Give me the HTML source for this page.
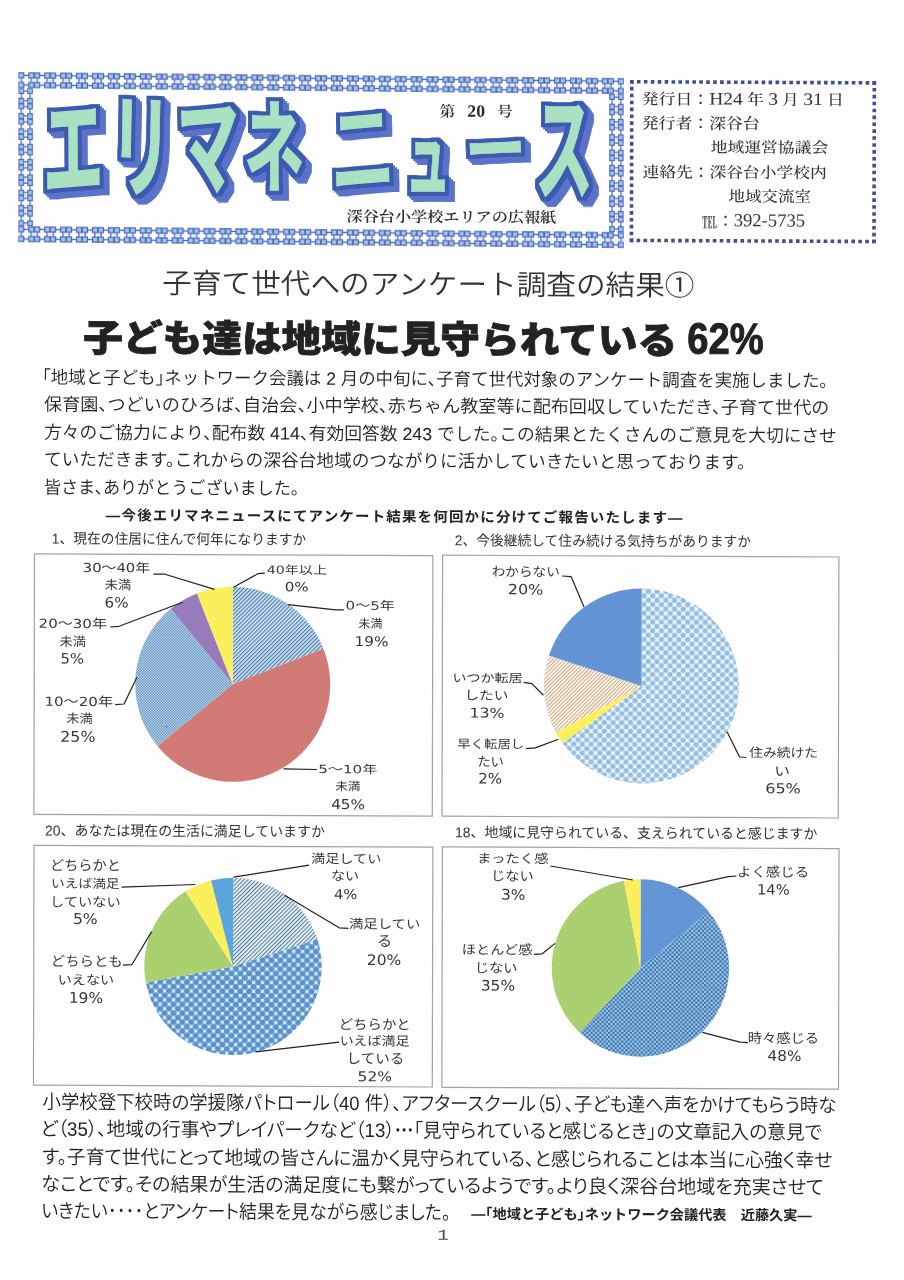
<!DOCTYPE html>
<html lang="ja">
<head>
<meta charset="utf-8">
<title>エリマネ ニュース 第20号</title>
<style>
html,body{margin:0;padding:0;}
body{width:904px;height:1280px;position:relative;overflow:hidden;background:#fefefe;}
#pgw{position:absolute;left:0;top:0;width:904px;height:1280px;transform-origin:0 0;transform:matrix(1,0.00454,-0.00227,1,0,0);}
svg.gfx{position:absolute;left:0;top:0;width:904px;height:1280px;overflow:visible;}
.t{position:absolute;white-space:nowrap;line-height:1;transform-origin:0 0;margin:0;padding:0;}
#logo{position:absolute;left:0;top:0;width:640px;height:260px;filter:url(#lgf);}
.lg{font-family:'Liberation Sans','Noto Sans CJK JP',sans-serif;font-weight:900;font-size:90px;color:#aae1c3;-webkit-text-stroke:1px #aae1c3;}
.t .L{line-height:0;font-size:1.16em}.t .tel{display:inline-block;line-height:0;position:relative;top:.13em;transform:scale(.92,1.03)}.t .j{line-height:0;font-family:'Noto Sans CJK JP',sans-serif;font-weight:700}.lg span{display:inline-block}
.go{font-family:'Liberation Serif','Noto Serif CJK JP','Noto Serif CJK SC',serif;font-weight:600;font-size:15.5px;color:#2a2a2a;word-spacing:.55em;}
.sub{font-family:'Liberation Serif','Noto Serif CJK JP','Noto Serif CJK SC',serif;font-weight:600;font-size:16px;color:#2a2a2a;}
.inf{font-family:'Liberation Serif','Noto Serif CJK JP','Noto Serif CJK SC',serif;font-weight:500;font-size:16px;color:#333;}
.t1{font-family:'Liberation Sans','Noto Sans CJK JP',sans-serif;font-weight:350;font-size:29px;color:#333;font-feature-settings:'halt';}
.t2{font-family:'Liberation Sans','Noto Sans CJK JP',sans-serif;font-weight:900;font-size:40px;color:#222;-webkit-text-stroke:0.8px #222;}
.t2n{font-family:'Liberation Sans','Noto Sans CJK JP',sans-serif;font-weight:700;font-size:42px;color:#222;-webkit-text-stroke:0.9px #222;}
.p{font-family:'Liberation Sans','Noto Sans CJK JP',sans-serif;font-weight:350;font-size:17.5px;color:#222;font-feature-settings:'halt';}
.pb{font-family:'Liberation Sans','Noto Sans CJK JP',sans-serif;font-weight:350;font-size:19px;color:#222;font-feature-settings:'palt';}
.sg{font-family:'Liberation Sans','Noto Sans CJK JP',sans-serif;font-weight:700;font-size:14.5px;color:#222;font-feature-settings:'halt';}
.sh{font-family:'Liberation Sans','Noto Sans CJK JP',sans-serif;font-weight:700;font-size:14.5px;color:#222;font-feature-settings:'halt';letter-spacing:1.2px;}
.ct{font-family:'Liberation Sans','Noto Sans CJK JP',sans-serif;font-weight:400;font-size:14px;color:#333;}
.lb{font-family:'DejaVu Sans','Noto Sans CJK JP',sans-serif;font-weight:400;font-size:13px;color:#383838;}
.pg{font-family:'Liberation Mono',monospace;font-weight:400;font-size:17px;color:#444;}
</style>
</head>
<body>
<svg class="gfx" width="904" height="1280" viewBox="0 0 904 1280">
<defs>
 <filter id="lgf" x="0" y="0" width="640" height="260" filterUnits="userSpaceOnUse" color-interpolation-filters="sRGB">
  <feMorphology in="SourceAlpha" operator="dilate" radius="4" result="o"/>
  <feOffset in="o" dx="2" dy="2" result="s1"/><feOffset in="o" dx="4" dy="4" result="s2"/><feOffset in="o" dx="6" dy="6" result="s3"/>
  <feMerge result="sa"><feMergeNode in="s1"/><feMergeNode in="s2"/><feMergeNode in="s3"/></feMerge>
  <feFlood flood-color="#5a72ca"/><feComposite in2="sa" operator="in" result="sc"/>
  <feFlood flood-color="#3c5aaf"/><feComposite in2="o" operator="in" result="oc"/>
  <feMerge><feMergeNode in="sc"/><feMergeNode in="oc"/><feMergeNode in="SourceGraphic"/></feMerge>
 </filter>
 <g id="tile">
  <rect x="-1" y="-1" width="18" height="18" fill="#fefefe"/>
  <g fill="#4868b8">
   <rect x="-6.1" y="0.2" width="12.2" height="6.1"/><rect x="9.9" y="0.2" width="12.2" height="6.1"/>
   <rect x="-6.1" y="9.7" width="12.2" height="6.1"/><rect x="9.9" y="9.7" width="12.2" height="6.1"/>
   <rect x="-3.8" y="6" width="1.3" height="4"/><rect x="2.5" y="6" width="1.3" height="4"/>
   <rect x="12.2" y="6" width="1.3" height="4"/><rect x="18.5" y="6" width="1.3" height="4"/>
   <rect x="5" y="2.6" width="6" height="1.3"/><rect x="5" y="12.1" width="6" height="1.3"/>
  </g>
  <g fill="#aac4f1">
   <rect x="0.9" y="1.4" width="3.9" height="3.7"/><rect x="11.2" y="1.4" width="3.9" height="3.7"/>
   <rect x="0.9" y="10.9" width="3.9" height="3.7"/><rect x="11.2" y="10.9" width="3.9" height="3.7"/>
  </g>
  <rect x="-1.6" y="7.3" width="3.2" height="1.4" fill="#c9dbf7"/><rect x="14.4" y="7.3" width="3.2" height="1.4" fill="#c9dbf7"/>
 </g>
 <pattern id="bh" x="18.3" y="72" width="15.934" height="16.2" patternUnits="userSpaceOnUse" viewBox="0 0 16 16" preserveAspectRatio="none"><use href="#tile"/></pattern>
 <pattern id="bh2" x="18.3" y="226" width="15.934" height="16.2" patternUnits="userSpaceOnUse" viewBox="0 0 16 16" preserveAspectRatio="none"><use href="#tile"/></pattern>
 <pattern id="bv" width="15.311" height="14.8" patternUnits="userSpaceOnUse" viewBox="0 0 16 16" preserveAspectRatio="none" patternTransform="translate(33.1,88.2) rotate(90)"><use href="#tile"/></pattern>
 <pattern id="bv2" width="15.311" height="14.8" patternUnits="userSpaceOnUse" viewBox="0 0 16 16" preserveAspectRatio="none" patternTransform="translate(623.8,88.2) rotate(90)"><use href="#tile"/></pattern>

 <pattern id="pa" width="2.8" height="2.8" patternUnits="userSpaceOnUse" patternTransform="rotate(45)"><rect width="2.8" height="2.8" fill="#d2e9fa"/><rect width="1.18" height="2.8" fill="#4f7ba8"/></pattern>
 <pattern id="pb" width="2.66" height="2.66" patternUnits="userSpaceOnUse"><rect width="2.66" height="2.66" fill="#d5ecfb"/><rect width="1.33" height="1.33" fill="#4a7cae"/><rect x="1.33" y="1.33" width="1.33" height="1.33" fill="#4a7cae"/></pattern>
 <pattern id="pc" width="8.75" height="8.75" patternUnits="userSpaceOnUse"><rect width="8.75" height="8.75" fill="#ecf5fc"/><g fill="#96bee1"><circle cx="2.19" cy="2.19" r="2.6"/><circle cx="6.56" cy="6.56" r="2.6"/><circle cx="10.94" cy="2.19" r="2.6"/><circle cx="2.19" cy="10.94" r="2.6"/><circle cx="-2.19" cy="6.56" r="2.6"/><circle cx="6.56" cy="-2.19" r="2.6"/></g></pattern>
 <pattern id="pd" width="2.7" height="2.7" patternUnits="userSpaceOnUse" patternTransform="rotate(45)"><rect width="2.7" height="2.7" fill="#fdf2e4"/><rect width="0.78" height="2.7" fill="#bc9d7b"/></pattern>
 <pattern id="pe" width="2.9" height="2.9" patternUnits="userSpaceOnUse" patternTransform="rotate(45)"><rect width="2.9" height="2.9" fill="#e8f5fc"/><rect width="1.1" height="2.9" fill="#587a96"/></pattern>
 <pattern id="pf" width="8.9" height="8.9" patternUnits="userSpaceOnUse"><rect width="8.9" height="8.9" fill="#dcf3fb"/><g fill="#5a91ca"><circle cx="2.225" cy="2.225" r="3"/><circle cx="6.675" cy="6.675" r="3"/><circle cx="11.125" cy="2.225" r="3"/><circle cx="2.225" cy="11.125" r="3"/><circle cx="-2.225" cy="6.675" r="3"/><circle cx="6.675" cy="-2.225" r="3"/></g></pattern>
 <pattern id="pg" width="4.36" height="4.36" patternUnits="userSpaceOnUse"><rect width="4.36" height="4.36" fill="#9ccbf0"/><rect width="2.18" height="2.18" fill="#3f70a6"/><rect x="2.18" y="2.18" width="2.18" height="2.18" fill="#3f70a6"/></pattern>
</defs>
<!-- logo frame -->
<g transform="translate(18.3,72) skewY(0.57) translate(-18.3,-72)">
<rect x="18.3" y="72" width="605.5" height="16.2" fill="url(#bh)"/>
<rect x="18.3" y="226" width="605.5" height="16.2" fill="url(#bh2)"/>
<rect x="18.3" y="88.2" width="14.8" height="137.8" fill="url(#bv)"/>
<rect x="609" y="88.2" width="14.8" height="137.8" fill="url(#bv2)"/>
</g>
</svg>
<div id="logo">
<div class="t lg" style="left:43.4px;top:93.58px;font-weight:700;transform:scale(0.6714,1.2506)"><span style="transform:rotate(-2.5deg) skewX(-2deg)">エ</span></div>
<div class="t lg" style="left:109.65px;top:92.41px;font-weight:700;transform:scale(0.6835,1.2634)"><span style="transform:rotate(2deg) skewX(0deg)">リ</span></div>
<div class="t lg" style="left:176.6px;top:94.18px;font-weight:700;transform:scale(0.6953,1.2139)"><span style="transform:rotate(-3deg) skewX(0deg)">マ</span></div>
<div class="t lg" style="left:244.16px;top:98.68px;font-weight:700;transform:scale(0.6687,1.1160)"><span style="transform:rotate(0deg) skewX(0deg)">ネ</span></div>
<div class="t lg" style="left:329.63px;top:94.97px;font-weight:500;transform:scale(0.7241,1.2402)"><span style="transform:rotate(-3deg) skewX(0deg)">ニ</span></div>
<div class="t lg" style="left:404.86px;top:111.72px;font-weight:700;transform:scale(0.5095,1.0231)"><span style="transform:rotate(0deg) skewX(0deg)">ュ</span></div>
<div class="t lg" style="left:465.41px;top:121.47px;font-weight:900;transform:scale(0.6758,0.6472)"><span style="transform:rotate(-3deg) skewX(0deg)">ー</span></div>
<div class="t lg" style="left:534.83px;top:92.8px;font-weight:700;transform:scale(0.6452,1.2878)"><span style="transform:rotate(0deg) skewX(0deg)">ス</span></div>
</div>
<div id="pgw">
<svg class="gfx" width="904" height="1280" viewBox="0 0 904 1280">
<g stroke="#414d8c" stroke-width="3.6" stroke-linecap="butt" fill="none"><line x1="631.98" y1="78.88" x2="874.54" y2="78.88" stroke-dasharray="3.6 3.33" stroke-dashoffset="1.8"/><line x1="631.98" y1="237.53" x2="874.54" y2="237.53" stroke-dasharray="3.6 3.33" stroke-dashoffset="1.8"/><line x1="631.98" y1="78.88" x2="631.98" y2="237.53" stroke-dasharray="3.6 3.3" stroke-dashoffset="1.8"/><line x1="874.54" y1="78.88" x2="874.54" y2="237.53" stroke-dasharray="3.6 3.3" stroke-dashoffset="1.8"/><g fill="#414d8c" stroke="none"><rect x="630.18" y="77.08" width="3.6" height="3.6"/><rect x="872.74" y="77.08" width="3.6" height="3.6"/><rect x="630.18" y="235.73" width="3.6" height="3.6"/><rect x="872.74" y="235.73" width="3.6" height="3.6"/></g></g>
<g fill="none" stroke="#a2a2a2" stroke-width="1.2"><rect x="35.76" y="553.64" width="398.39" height="260.49"/><rect x="443.86" y="553.19" width="396.29" height="261"/><rect x="35.92" y="845.14" width="398.84" height="239.89"/><rect x="444.32" y="844.78" width="396.65" height="240.6"/></g>
<path d="M234.25 683.14L234.25 585.64A97.5 97.5 0 0 1 324.9 647.24Z" fill="url(#pa)"/><path d="M234.25 683.14L324.9 647.24A97.5 97.5 0 0 1 159.12 745.29Z" fill="#d27a76"/><path d="M234.25 683.14L159.12 745.29A97.5 97.5 0 0 1 172.1 608.01Z" fill="url(#pb)"/><path d="M234.25 683.14L172.1 608.01A97.5 97.5 0 0 1 198.36 592.48Z" fill="#987bbb"/><path d="M234.25 683.14L198.36 592.48A97.5 97.5 0 0 1 234.25 585.64Z" fill="#fbef5b"/>
<path d="M643.05 683.08L643.05 585.68A97.4 97.4 0 1 1 564.25 740.33Z" fill="url(#pc)"/><path d="M643.05 683.08L564.25 740.33A97.4 97.4 0 0 1 557.7 730Z" fill="#fbef5b"/><path d="M643.05 683.08L557.7 730A97.4 97.4 0 0 1 550.42 652.98Z" fill="url(#pd)"/><path d="M643.05 683.08L550.42 652.98A97.4 97.4 0 0 1 643.05 585.68Z" fill="#6394d5"/>
<path d="M235.19 965.33L235.19 876.63A88.7 88.7 0 0 1 319.55 937.92Z" fill="url(#pe)"/><path d="M235.19 965.33L319.55 937.92A88.7 88.7 0 1 1 148.06 981.95Z" fill="url(#pf)"/><path d="M235.19 965.33L148.06 981.95A88.7 88.7 0 0 1 187.66 890.44Z" fill="#aad070"/><path d="M235.19 965.33L187.66 890.44A88.7 88.7 0 0 1 213.13 879.42Z" fill="#fbef5b"/><path d="M235.19 965.33L213.13 879.42A88.7 88.7 0 0 1 235.19 876.63Z" fill="#5aa5dc"/>
<path d="M642.59 965.08L642.59 876.38A88.7 88.7 0 0 1 710.93 908.54Z" fill="#6296d4"/><path d="M642.59 965.08L710.93 908.54A88.7 88.7 0 0 1 581.87 1029.74Z" fill="url(#pg)"/><path d="M642.59 965.08L581.87 1029.74A88.7 88.7 0 0 1 625.97 877.96Z" fill="#aad070"/><path d="M642.59 965.08L625.97 877.96A88.7 88.7 0 0 1 642.59 876.38Z" fill="#fbef5b"/>
<g fill="none" stroke="#222" stroke-width="1.2" stroke-linejoin="round"><polyline points="154.7,573.5 166.2,573.45 215.84,588.42"/><polyline points="111.62,626.49 120.42,625.75 184.06,601.36"/><polyline points="116.8,704.17 125.7,703.43 138.44,676.57"/><polyline points="266.1,571.99 259.2,572.52 234.83,586.13"/><polyline points="345.18,608.33 337.08,608.37 289.37,603.29"/><polyline points="318.84,768.05 285.14,767.51"/><polyline points="563.3,573.44 572.5,574.1 585.37,604.24"/><polyline points="525.14,680.02 533.35,681.18 544.97,692.73"/><polyline points="527.59,746.21 536.89,745.46 560.17,736.76"/><polyline points="748.01,754.11 741.31,753.64 728.85,728.59"/><polyline points="123.61,886.54 197.4,883.6"/><polyline points="125.09,964.63 133.99,964.09 153.71,930.9"/><polyline points="310.96,863.69 235.49,876.13"/><polyline points="350.6,926.71 341.3,926.25 286.63,894"/><polyline points="341.56,1040.55 257.98,1050.63"/><polyline points="552.26,863.49 634.79,877.12"/><polyline points="536.26,951.87 544.36,951.33 557.13,940.87"/><polyline points="738.38,872.65 730.28,873.39 680.31,884.51"/><polyline points="750.36,1039.19 742.26,1038.73 704.63,1029.1"/></g>
</svg>
<div class="t go" style="left:439.84px;top:102.31px;transform:scale(0.9870,0.9655)">第 <span class=L>20</span> 号</div>
<div class="t sub" style="left:346.97px;top:207.61px;transform:scale(1.0082,0.9267)">深谷台小学校エリアの広報紙</div>
<div class="t inf" style="left:642.41px;top:89.2px;transform:scale(1.0531,0.9492)">発行日：<span class=L>H24</span> 年 <span class=L>3</span> 月 <span class=L>31</span> 日</div>
<div class="t inf" style="left:642.46px;top:112.85px;transform:scale(1.0546,0.9763)">発行者：深谷台</div>
<div class="t inf" style="left:711.29px;top:137.37px;transform:scale(1.0496,0.9356)">地域運営協議会</div>
<div class="t inf" style="left:642.84px;top:162px;transform:scale(1.0465,0.9492)">連絡先：深谷台小学校内</div>
<div class="t inf" style="left:728.81px;top:186.4px;transform:scale(1.0299,0.9424)">地域交流室</div>
<div class="t inf" style="left:701.53px;top:210.16px;transform:scale(1.0045,0.9920)"><span class=tel>℡</span>：<span class=L>392-5735</span></div>
<div class="t t1" style="left:162.68px;top:268.59px;transform:scale(1.0215,0.9720)">子育て世代へのアンケート調査の結果①</div>
<div class="t t2" style="left:83.73px;top:318.87px;transform:scale(0.9920,0.9350)">子ども達は地域に見守られている</div>
<div class="t t2n" style="left:687.82px;top:314.16px;transform:scale(0.9092,1.0407)">62%</div>
<div class="t p" style="left:43.09px;top:368.85px;transform:scale(0.9971,1.0154)">「地域と子ども」ネットワーク会議は 2 月の中旬に、子育て世代対象のアンケート調査を実施しました。</div>
<div class="t p" style="left:45.38px;top:396.35px;transform:scale(1.0340,1.0154)">保育園、つどいのひろば、自治会、小中学校、赤ちゃん教室等に配布回収していただき、子育て世代の</div>
<div class="t p" style="left:44.94px;top:423.85px;transform:scale(1.0159,1.0154)">方々のご協力により、配布数 414、有効回答数 243 でした。この結果とたくさんのご意見を大切にさせ</div>
<div class="t p" style="left:44.51px;top:451.35px;transform:scale(1.0105,1.0154)">ていただきます。これからの深谷台地域のつながりに活かしていきたいと思っております。</div>
<div class="t p" style="left:45.35px;top:478.85px;transform:scale(0.9758,1.0154)">皆さま、ありがとうございました。</div>
<div class="t sh" style="left:107.35px;top:508.24px;transform:scale(0.9971,0.9778)">—今後エリマネニュースにてアンケート結果を何回かに分けてご報告いたします—</div>
<div class="t ct" style="left:52.82px;top:531.26px;transform:scale(0.9821,1.0154)">1、現在の住居に住んで何年になりますか</div>
<div class="t ct" style="left:455.87px;top:531.23px;transform:scale(0.9833,1.0154)">2、今後継続して住み続ける気持ちがありますか</div>
<div class="t ct" style="left:47.32px;top:823.09px;transform:scale(0.9952,1.0154)">20、あなたは現在の生活に満足していますか</div>
<div class="t ct" style="left:457.07px;top:822.83px;transform:scale(0.9933,1.0077)">18、地域に見守られている、支えられていると感じますか</div>
<div class="t lb" style="left:84.13px;top:560.95px;transform:scale(1.1409,0.9583)">30〜40年</div>
<div class="t lb" style="left:105.8px;top:578.37px;transform:scale(1.0200,0.9750)">未満</div>
<div class="t lb" style="left:106.2px;top:595.12px;transform:scale(1.1580,1.1000)">6%</div>
<div class="t lb" style="left:39.94px;top:617.05px;transform:scale(1.1583,0.9583)">20〜30年</div>
<div class="t lb" style="left:61.43px;top:634.57px;transform:scale(1.0200,0.9750)">未満</div>
<div class="t lb" style="left:62.14px;top:651.32px;transform:scale(1.1369,1.1000)">5%</div>
<div class="t lb" style="left:46.33px;top:694.62px;transform:scale(1.1614,0.9583)">10〜20年</div>
<div class="t lb" style="left:68.11px;top:712.33px;transform:scale(1.0200,0.9583)">未満</div>
<div class="t lb" style="left:62.24px;top:729.01px;transform:scale(1.2147,1.1300)">25%</div>
<div class="t lb" style="left:267.93px;top:562.53px;transform:scale(1.0863,0.8667)">40年以上</div>
<div class="t lb" style="left:285.74px;top:578.73px;transform:scale(1.1690,0.9900)">0%</div>
<div class="t lb" style="left:346.59px;top:598.21px;transform:scale(1.1565,0.9083)">0〜5年</div>
<div class="t lb" style="left:359.94px;top:615.57px;transform:scale(0.9201,0.9250)">未満</div>
<div class="t lb" style="left:356.28px;top:632.5px;transform:scale(1.1740,1.0400)">19%</div>
<div class="t lb" style="left:319.57px;top:762px;transform:scale(1.1635,0.8750)">5〜10年</div>
<div class="t lb" style="left:336.98px;top:779.23px;transform:scale(0.9721,0.8833)">未満</div>
<div class="t lb" style="left:333.42px;top:795.6px;transform:scale(1.1713,1.0500)">45%</div>
<div class="t lb" style="left:492.79px;top:563.43px;transform:scale(1.0467,0.9867)">わからない</div>
<div class="t lb" style="left:508.58px;top:579.99px;transform:scale(1.2369,1.0900)">20%</div>
<div class="t lb" style="left:453.53px;top:669.72px;transform:scale(1.0785,0.9083)">いつか転居</div>
<div class="t lb" style="left:466.08px;top:687.49px;transform:scale(1.1287,0.9545)">したい</div>
<div class="t lb" style="left:471.18px;top:704.47px;transform:scale(1.2151,1.0400)">13%</div>
<div class="t lb" style="left:458.56px;top:735.91px;transform:scale(1.0293,0.9083)">早く転居し</div>
<div class="t lb" style="left:478.72px;top:752.56px;transform:scale(1.0276,1.0140)">たい</div>
<div class="t lb" style="left:480.09px;top:769.42px;transform:scale(1.1582,1.1100)">2%</div>
<div class="t lb" style="left:750.72px;top:743.33px;transform:scale(1.0584,0.9583)">住み続けた</div>
<div class="t lb" style="left:776.31px;top:760.98px;transform:scale(1.2105,1.0211)">い</div>
<div class="t lb" style="left:766.64px;top:778.33px;transform:scale(1.2333,1.0600)">65%</div>
<div class="t lb" style="left:52.4px;top:858.27px;transform:scale(1.0897,1.0818)">どちらかと</div>
<div class="t lb" style="left:53.04px;top:877.28px;transform:scale(1.0550,0.9500)">いえば満足</div>
<div class="t lb" style="left:51.65px;top:895.14px;transform:scale(1.0942,1.0133)">していない</div>
<div class="t lb" style="left:75.36px;top:910.75px;transform:scale(1.2053,1.1500)">5%</div>
<div class="t lb" style="left:52.58px;top:953.66px;transform:scale(1.1049,1.0667)">どちらとも</div>
<div class="t lb" style="left:59.61px;top:972.71px;transform:scale(1.0843,1.0133)">いえない</div>
<div class="t lb" style="left:71.17px;top:989.66px;transform:scale(1.1888,1.1400)">19%</div>
<div class="t lb" style="left:312.69px;top:851.23px;transform:scale(1.0874,0.9667)">満足してい</div>
<div class="t lb" style="left:332.82px;top:868.06px;transform:scale(1.0780,0.9867)">ない</div>
<div class="t lb" style="left:335.95px;top:885.89px;transform:scale(1.1335,1.0400)">4%</div>
<div class="t lb" style="left:351.13px;top:916.05px;transform:scale(1.1064,0.9667)">満足してい</div>
<div class="t lb" style="left:379.03px;top:932.07px;transform:scale(1.1901,1.1415)">る</div>
<div class="t lb" style="left:369.17px;top:950.72px;transform:scale(1.1928,1.1200)">20%</div>
<div class="t lb" style="left:341.31px;top:1015.55px;transform:scale(1.1095,1.0545)">どちらかと</div>
<div class="t lb" style="left:341.97px;top:1033.39px;transform:scale(1.0742,0.9667)">いえば満足</div>
<div class="t lb" style="left:348.63px;top:1050.05px;transform:scale(1.1188,1.0636)">している</div>
<div class="t lb" style="left:360.13px;top:1068.08px;transform:scale(1.1928,1.0500)">52%</div>
<div class="t lb" style="left:478.93px;top:850.46px;transform:scale(1.1094,0.9667)">まったく感</div>
<div class="t lb" style="left:493.29px;top:867.34px;transform:scale(1.0944,1.0311)">じない</div>
<div class="t lb" style="left:503.13px;top:885.11px;transform:scale(1.1845,1.1200)">3%</div>
<div class="t lb" style="left:463.7px;top:941.17px;transform:scale(1.0933,1.0000)">ほとんど感</div>
<div class="t lb" style="left:477.18px;top:958.52px;transform:scale(1.0973,1.0311)">じない</div>
<div class="t lb" style="left:482.82px;top:975.81px;transform:scale(1.1928,1.1100)">35%</div>
<div class="t lb" style="left:738.99px;top:861.63px;transform:scale(1.1094,1.0083)">よく感じる</div>
<div class="t lb" style="left:758.8px;top:878.86px;transform:scale(1.1293,1.0900)">14%</div>
<div class="t lb" style="left:750.43px;top:1028.1px;transform:scale(1.1005,1.0333)">時々感じる</div>
<div class="t lb" style="left:769.59px;top:1045.31px;transform:scale(1.1715,1.1200)">48%</div>
<div class="t pb" style="left:45.05px;top:1092.12px;transform:scale(0.9696,1.0229)">小学校登下校時の学援隊パトロール（40 件）、アフタースクール（5）、子ども達へ声をかけてもらう時な</div>
<div class="t pb" style="left:42.64px;top:1119.41px;transform:scale(0.9838,1.0229)">ど（35）、地域の行事やプレイパークなど（13）<span class=j>…</span>「見守られていると感じるとき」の文章記入の意見で</div>
<div class="t pb" style="left:45.16px;top:1146.71px;transform:scale(0.9880,1.0229)">す。子育て世代にとって地域の皆さんに温かく見守られている、と感じられることは本当に心強く幸せ</div>
<div class="t pb" style="left:43.96px;top:1174.01px;transform:scale(1.0009,1.0229)">なことです。その結果が生活の満足度にも繋がっているようです。より良く深谷台地域を充実させて</div>
<div class="t pb" style="left:43.91px;top:1201.31px;transform:scale(0.9405,1.0229)">いきたい<span class=j>‥‥</span>とアンケート結果を見ながら感じました。</div>
<div class="t sg" style="left:473.83px;top:1205.11px;transform:scale(0.9782,0.9704)">—「地域と子ども」ネットワーク会議代表　近藤久実—</div>
<div class="t pg" style="left:439.98px;top:1225.57px;transform:scale(1.1278,0.8978)">1</div>
</div>
</body>
</html>
